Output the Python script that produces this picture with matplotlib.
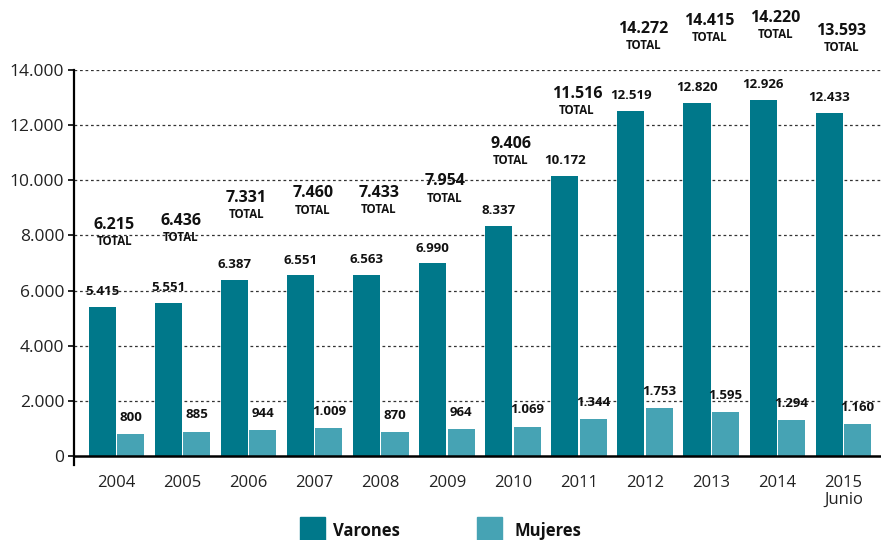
import matplotlib
matplotlib.use("Agg")
import matplotlib.pyplot as plt
from matplotlib.patches import Rectangle
import numpy as np

plt.rcParams['font.family'] = ['Open Sans', 'DejaVu Sans']

years = ["2004", "2005", "2006", "2007", "2008", "2009", "2010", "2011",
         "2012", "2013", "2014", "2015\nJunio"]
varones = [5415, 5551, 6387, 6551, 6563, 6990, 8337, 10172, 12519, 12820, 12926, 12433]
mujeres = [800, 885, 944, 1009, 870, 964, 1069, 1344, 1753, 1595, 1294, 1160]
totales = [6215, 6436, 7331, 7460, 7433, 7954, 9406, 11516, 14272, 14415, 14220, 13593]
yticks = [0, 2000, 4000, 6000, 8000, 10000, 12000, 14000]

C_VAR = "#00788A"
C_MUJ = "#46A3B4"


def fmt(v):
    return f"{v:,}".replace(",", ".")


fig = plt.figure(figsize=(8.81, 5.40), dpi=100)
ax = fig.add_axes([74 / 881, 1 - 465 / 540, 1 - 74 / 881, (465 - 70) / 540])

x = np.arange(len(years))
w = 0.41
gap = 0.01
ax.bar(x - w / 2 - gap, varones, width=w, color=C_VAR, zorder=3)
ax.bar(x + w / 2 + gap, mujeres, width=w, color=C_MUJ, zorder=3)

ax.set_ylim(-326, 14000)
ax.set_xlim(-0.643, 11.57)

# dashed grid lines
for t in yticks[1:]:
    ax.axhline(t, color="#333333", lw=0.9, ls=(0, (2.2, 2.2)), zorder=1)

ax.spines["top"].set_visible(False)
ax.spines["right"].set_visible(False)
ax.spines["left"].set_linewidth(1.6)
ax.spines["bottom"].set_linewidth(1.8)
ax.spines["bottom"].set_position(("data", 0))
ax.spines["bottom"].set_zorder(4)

ax.set_yticks(yticks)
ax.set_yticklabels([fmt(t) for t in yticks], fontsize=12.5, color="#222222")
ax.tick_params(axis="y", length=4, width=1.2, pad=3)
ax.set_xticks(x)
ax.set_xticklabels(years, fontsize=12, color="#222222", linespacing=1.05)
ax.tick_params(axis="x", length=0, pad=14)

# value labels
for i in range(len(years)):
    ax.annotate(fmt(varones[i]), (x[i] - w / 2 - gap, varones[i]),
                xytext=(0, 11), textcoords="offset points",
                ha="center", va="center", fontsize=9.5, fontweight="bold",
                color="#111111", zorder=5)
    ax.annotate(fmt(mujeres[i]), (x[i] + w / 2 + gap, mujeres[i]),
                xytext=(0, 12), textcoords="offset points",
                ha="center", va="center", fontsize=9.5, fontweight="bold",
                color="#111111", zorder=5)
    ax.annotate(fmt(totales[i]), (x[i] - 0.03, varones[i]),
                xytext=(0, 59), textcoords="offset points",
                ha="center", va="center", fontsize=11.5, fontweight="bold",
                color="#111111", annotation_clip=False)
    ax.annotate("TOTAL", (x[i] - 0.03, varones[i]),
                xytext=(0, 47), textcoords="offset points",
                ha="center", va="center", fontsize=8.3, fontweight="bold",
                color="#111111", annotation_clip=False)

# legend
for (lx, tx, lab, col) in [(300, 333, "Varones", C_VAR), (477, 514, "Mujeres", C_MUJ)]:
    fig.patches.append(Rectangle((lx / 881, 0), 25 / 881, (540 - 517) / 540,
                                 transform=fig.transFigure, color=col))
    fig.text(tx / 881, 1 - 531 / 540, lab, fontsize=12, fontweight="bold",
             color="#111111", va="center", ha="left")

fig.savefig("out.png", dpi=100)
